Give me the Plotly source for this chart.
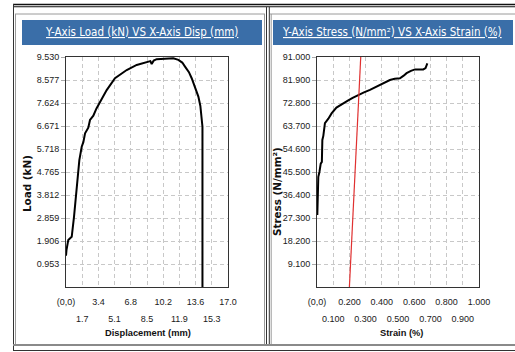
import plotly.graph_objects as go

W, H = 515, 352

# ---------------- data ----------------
disp = [0, 0.05, 0.24, 0.6, 0.84, 1.12, 1.29, 1.4, 1.65, 1.82, 2.0, 2.34, 2.52, 2.87,
        3.2, 3.57, 4.27, 5.14, 5.8, 6.37, 7.42, 8.2, 8.64, 8.85, 8.99, 9.2, 9.52, 10.3,
        11.26, 11.79, 12.2, 12.49, 12.9, 13.19, 13.6, 13.89, 14.1, 14.24, 14.3, 14.32, 14.32]
load = [1.3, 1.53, 1.95, 2.08, 2.91, 4.16, 4.85, 5.26, 5.81, 6.0, 6.37, 6.6, 6.92, 7.1,
        7.4, 7.68, 8.16, 8.65, 8.85, 8.99, 9.2, 9.3, 9.34, 9.36, 9.24, 9.38, 9.44, 9.46,
        9.48, 9.41, 9.3, 9.13, 8.9, 8.65, 8.25, 7.89, 7.5, 7.06, 6.8, 6.64, 0]

strain = [0.002, 0.004, 0.008, 0.015, 0.019, 0.023, 0.03, 0.033, 0.039, 0.049, 0.07, 0.09,
          0.12, 0.162, 0.193, 0.22, 0.255, 0.29, 0.327, 0.36, 0.389, 0.42, 0.45, 0.48,
          0.512, 0.535, 0.553, 0.58, 0.605, 0.656, 0.67, 0.681]
stress = [28.5, 36.4, 43.6, 45.5, 48.3, 48.8, 49.5, 58.2, 59.8, 64.8, 66.6, 68.7,
          71.0, 72.8, 73.8, 74.8, 76.0, 77.0, 78.0, 79.0, 79.9, 80.8, 81.9, 82.4,
          82.6, 83.6, 84.6, 85.5, 86.1, 86.1, 86.6, 88.5]

modulus_strain = [0.200, 0.270]
modulus_stress = [0.0, 91.0]

load_ticks = [0.953, 1.906, 2.859, 3.812, 4.765, 5.718, 6.671, 7.624, 8.577, 9.530]
load_ticktext = ["0.953", "1.906", "2.859", "3.812", "4.765", "5.718", "6.671", "7.624", "8.577", "9.530"]
disp_ticks_a = [0, 3.4, 6.8, 10.2, 13.6, 17.0]
disp_text_a = ["(0,0)", "3.4", "6.8", "10.2", "13.6", "17.0"]
disp_ticks_b = [1.7, 5.1, 8.5, 11.9, 15.3]
disp_text_b = ["1.7", "5.1", "8.5", "11.9", "15.3"]

stress_ticks = [9.1, 18.2, 27.3, 36.4, 45.5, 54.6, 63.7, 72.8, 81.9, 91.0]
stress_ticktext = ["9.100", "18.200", "27.300", "36.400", "45.500", "54.600", "63.700", "72.800", "81.900", "91.000"]
strain_ticks_a = [0, 0.2, 0.4, 0.6, 0.8, 1.0]
strain_text_a = ["(0,0)", "0.200", "0.400", "0.600", "0.800", "1.000"]
strain_ticks_b = [0.1, 0.3, 0.5, 0.7, 0.9]
strain_text_b = ["0.100", "0.300", "0.500", "0.700", "0.900"]

# ---------------- helpers ----------------
def px(x):
    return x / W

def py(y):
    return 1 - y / H

SANS = "Liberation Sans, Arial, sans-serif"
tickfont = dict(family=SANS, size=9, color="#1a1a1a")
GRID = "#c8c8c8"
GDASH = "4px,3px"

fig = go.Figure()
fig.add_trace(go.Scatter(x=disp, y=load, mode="lines", line=dict(color="black", width=2),
                         xaxis="x", yaxis="y", showlegend=False, hoverinfo="skip"))
fig.add_trace(go.Scatter(x=strain, y=stress, mode="lines", line=dict(color="black", width=2),
                         xaxis="x2", yaxis="y2", showlegend=False, hoverinfo="skip"))
fig.add_trace(go.Scatter(x=modulus_strain, y=modulus_stress, mode="lines",
                         line=dict(color="#e03030", width=1.2),
                         xaxis="x2", yaxis="y2", showlegend=False, hoverinfo="skip"))
fig.add_trace(go.Scatter(x=[0], y=[0], mode="markers", marker=dict(opacity=0),
                         xaxis="x3", yaxis="y", showlegend=False, hoverinfo="skip"))
fig.add_trace(go.Scatter(x=[0], y=[0], mode="markers", marker=dict(opacity=0),
                         xaxis="x4", yaxis="y2", showlegend=False, hoverinfo="skip"))

xa_common = dict(showgrid=True, gridcolor=GRID, griddash=GDASH, gridwidth=1, automargin=False,
                 zeroline=False, ticks="", tickfont=tickfont, tickmode="array", tickangle=0)
ya_common = dict(showgrid=True, gridcolor=GRID, griddash=GDASH, gridwidth=1, automargin=False,
                 zeroline=False, ticks="outside", ticklen=4, tickcolor="#aaaaaa",
                 tickfont=tickfont, tickmode="array",
                 showline=True, linecolor="#333333", linewidth=1, mirror=True)

dom_y = [py(287), py(57)]
fig.update_layout(
    template="none",
    width=W, height=H, autosize=False,
    margin=dict(l=0, r=0, t=0, b=0, pad=0, autoexpand=False),
    showlegend=False,
    paper_bgcolor="white", plot_bgcolor="white",
    xaxis=dict(domain=[px(66), px(228)], range=[0, 17], anchor="y",
               tickvals=disp_ticks_a, ticktext=disp_text_a,
               showline=True, linecolor="#333333", linewidth=1, mirror=True,
               ticklabelstandoff=6, **xa_common),
    xaxis3=dict(overlaying="x", range=[0, 17], anchor="y", side="bottom",
                tickvals=disp_ticks_b, ticktext=disp_text_b, showline=False,
                ticklabelstandoff=25, **xa_common),
    yaxis=dict(domain=dom_y, range=[0, 9.53], anchor="x",
               tickvals=load_ticks, ticktext=load_ticktext, **ya_common),
    xaxis2=dict(domain=[px(317), px(479)], range=[0, 1], anchor="y2",
                tickvals=strain_ticks_a, ticktext=strain_text_a,
                showline=True, linecolor="#333333", linewidth=1, mirror=True,
                ticklabelstandoff=6, **xa_common),
    xaxis4=dict(overlaying="x2", range=[0, 1], anchor="y2", side="bottom",
                tickvals=strain_ticks_b, ticktext=strain_text_b, showline=False,
                ticklabelstandoff=25, **xa_common),
    yaxis2=dict(domain=dom_y, range=[0, 91], anchor="x2",
                tickvals=stress_ticks, ticktext=stress_ticktext, **ya_common),
)

shapes = []
def hline(y, x0, x1, color, width):
    shapes.append(dict(type="line", xref="paper", yref="paper", x0=px(x0), x1=px(x1),
                       y0=py(y), y1=py(y), line=dict(color=color, width=width)))
def vline(x, y0, y1, color, width):
    shapes.append(dict(type="line", xref="paper", yref="paper", x0=px(x), x1=px(x),
                       y0=py(y0), y1=py(y1), line=dict(color=color, width=width)))

hline(4.5, 13, 515, "#111111", 1.3)
hline(6.8, 13, 515, "#111111", 1.1)
hline(14, 15, 265, "#9a9a9a", 1)
hline(14, 270, 515, "#9a9a9a", 1)
vline(13.5, 4, 351, "#333333", 1)
vline(15.5, 14, 345, "#9a9a9a", 1)
vline(264.5, 14, 345, "#9a9a9a", 1)
vline(266.5, 7, 345, "#333333", 1)
vline(269.3, 7, 345, "#333333", 1)
vline(271.2, 14, 345, "#9a9a9a", 1)
hline(345, 13, 515, "#8a8a8a", 2)
hline(350.5, 13, 515, "#333333", 1)

TITLE_BG = "#3a6ea8"
for x0, x1 in [(22, 262), (273, 513)]:
    shapes.append(dict(type="rect", xref="paper", yref="paper", x0=px(x0), x1=px(x1),
                       y0=py(45), y1=py(20), fillcolor=TITLE_BG, line=dict(width=0)))
fig.update_layout(shapes=shapes)

titlefont = dict(family="DejaVu Sans Condensed, DejaVu Sans, sans-serif", size=11.5, color="white")
boldv = dict(family="DejaVu Sans, sans-serif", size=10.4, color="#111111", weight="bold")
boldn = dict(family=SANS, size=9.3, color="#111111", weight="bold")
ann = [
    dict(text="<u>Y-Axis Load (kN) VS X-Axis Disp (mm)</u>", x=px(141), y=py(32.5), font=titlefont),
    dict(text="<u>Y-Axis Stress (N/mm²) VS X-Axis Strain (%)</u>", x=px(392), y=py(32.5), font=titlefont),
    dict(text="Load (kN)", x=px(27), y=py(184), textangle=-90, font=boldv),
    dict(text="Stress (N/mm²)", x=px(277), y=py(192), textangle=-90, font=boldv),
    dict(text="Displacement (mm)", x=px(148), y=py(333), font=boldn),
    dict(text="Strain (%)", x=px(401.7), y=py(333), font=boldn),
]
for a in ann:
    a.update(xref="paper", yref="paper", showarrow=False, xanchor="center", yanchor="middle")
fig.update_layout(annotations=ann)

fig.write_html("out.html", config={"displayModeBar": False, "staticPlot": True},
               post_script="document.body.style.margin='0px';")
